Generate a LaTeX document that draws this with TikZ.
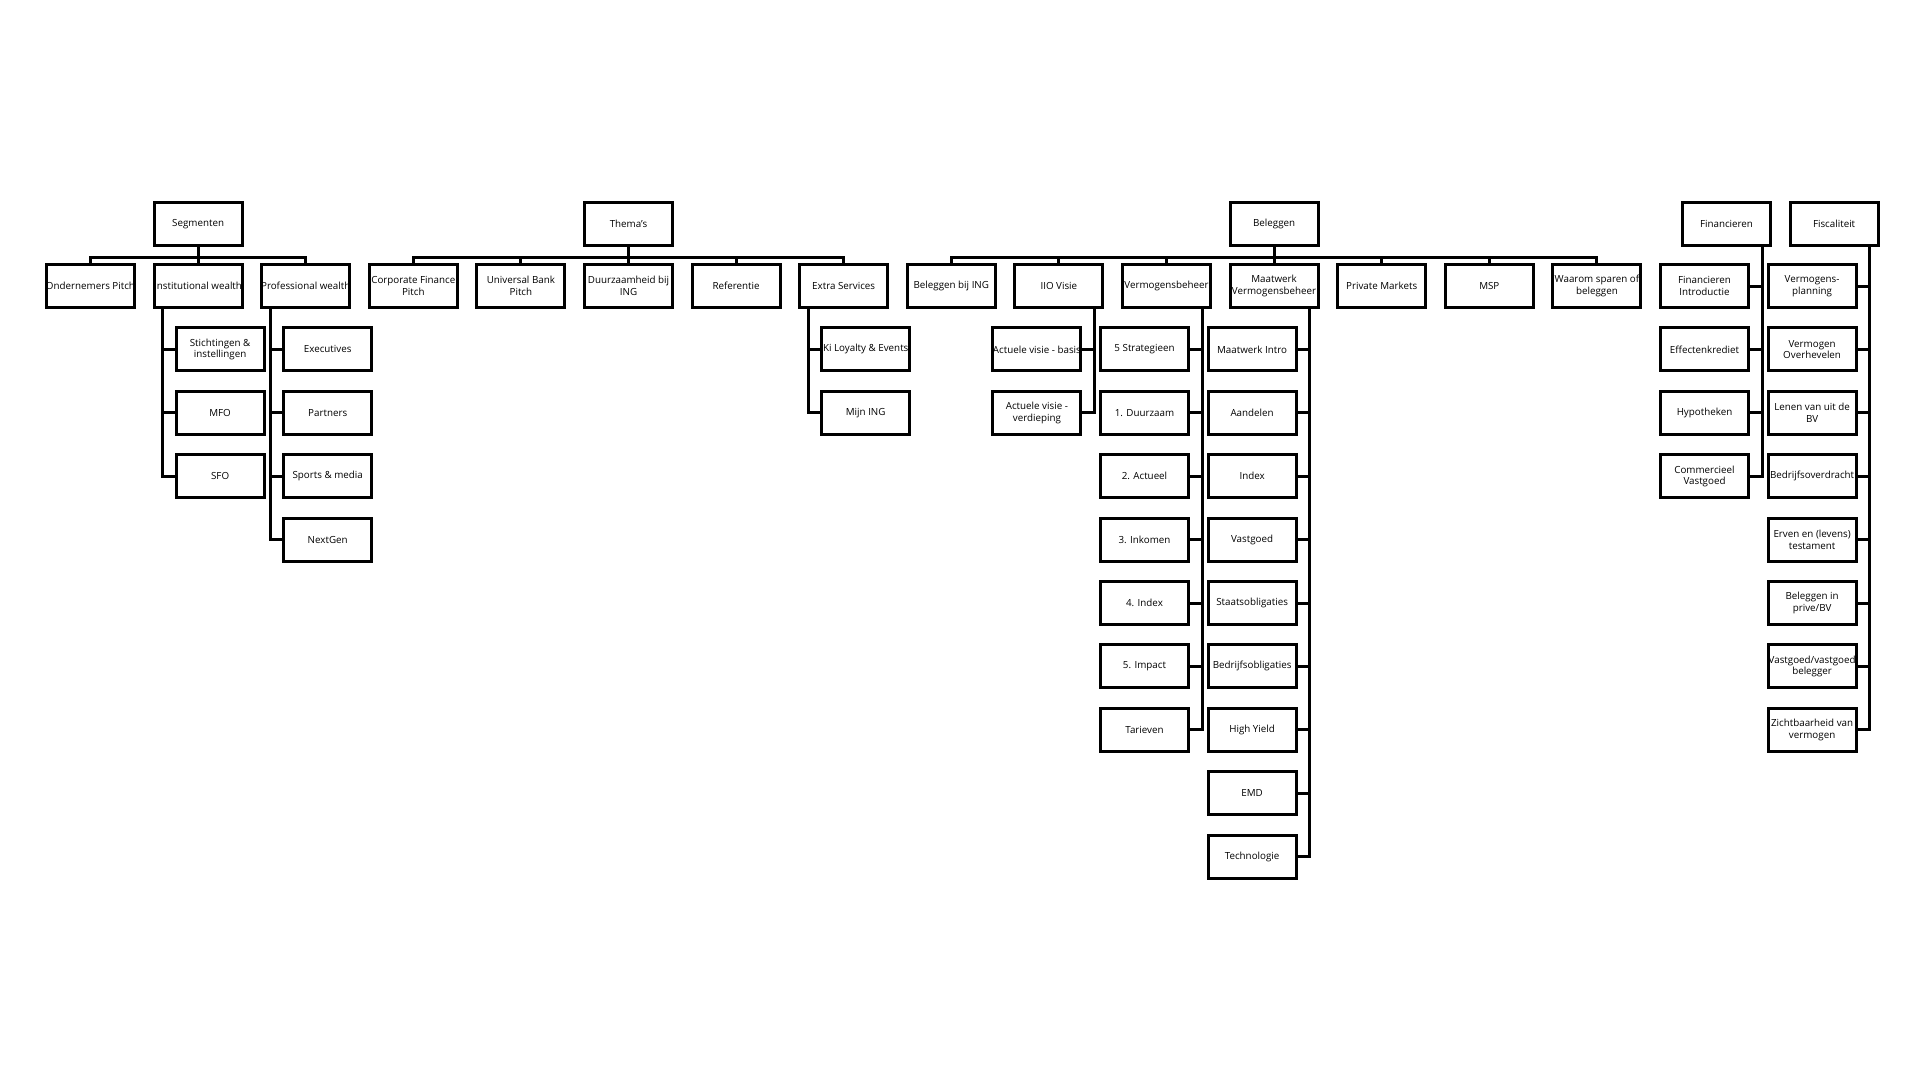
\documentclass[tikz,border=0pt]{standalone}
\usepackage{fontspec}
\setmainfont{Open Sans}
\newcommand\w[1]{\makebox[60pt][c]{#1}}
\newcommand\colx[1]{90.5+107.6*#1}
\newcommand\rowy[1]{286+63.4*#1}
\tikzset{
  box/.style={draw=black, line width=3pt, minimum width=88pt, minimum height=43pt,
    inner sep=0pt, align=center, fill=white, text=black,
    font=\fontsize{9.8}{11.5}\selectfont},
  conn/.style={draw=black, line width=3pt}
}
\begin{document}
\begin{tikzpicture}[x=1pt,y=-1pt]
\useasboundingbox[fill=white] (0,0) rectangle (1920,1080);
% ---------- roots ----------
\node[box] (seg) at ({\colx{1}},224) {\w{Segmenten}};
\node[box] (thm) at ({\colx{5}},224) {\w{Thema's}};
\node[box] (bel) at ({\colx{11}},224) {\w{Beleggen}};
\node[box] (fin) at ({\colx{15}+22},224) {\w{Financieren}};
\node[box] (fis) at ({\colx{16}+22},224) {\w{Fiscaliteit}};
% ---------- level 1 ----------
\node[box] (c0) at ({\colx{0}},{\rowy{0}}) {\w{Ondernemers Pitch}};
\node[box] (c1) at ({\colx{1}},{\rowy{0}}) {\w{Institutional wealth}};
\node[box] (c2) at ({\colx{2}},{\rowy{0}}) {\w{Professional wealth}};
\node[box] (c3) at ({\colx{3}},{\rowy{0}}) {\w{Corporate Finance}\\\w{Pitch}};
\node[box] (c4) at ({\colx{4}},{\rowy{0}}) {\w{Universal Bank}\\\w{Pitch}};
\node[box] (c5) at ({\colx{5}},{\rowy{0}}) {\w{Duurzaamheid bij}\\\w{ING}};
\node[box] (c6) at ({\colx{6}},{\rowy{0}}) {\w{Referentie}};
\node[box] (c7) at ({\colx{7}},{\rowy{0}}) {\w{Extra Services}};
\node[box] (c8) at ({\colx{8}},{\rowy{0}}) {\w{Beleggen bij ING}};
\node[box] (c9) at ({\colx{9}},{\rowy{0}}) {\w{IIO Visie}};
\node[box] (c10) at ({\colx{10}},{\rowy{0}}) {\w{Vermogensbeheer}};
\node[box] (c11) at ({\colx{11}},{\rowy{0}}) {\w{Maatwerk}\\\w{Vermogensbeheer}};
\node[box] (c12) at ({\colx{12}},{\rowy{0}}) {\w{Private Markets}};
\node[box] (c13) at ({\colx{13}},{\rowy{0}}) {\w{MSP}};
\node[box] (c14) at ({\colx{14}},{\rowy{0}}) {\w{Waarom sparen of}\\\w{beleggen}};
% ---------- buses ----------
\foreach \c in {c0,c1,c2} \draw[conn] (seg.south) -- ++(0,10) -| (\c.north);
\foreach \c in {c3,c4,c5,c6,c7} \draw[conn] (thm.south) -- ++(0,10) -| (\c.north);
\foreach \c in {c8,c9,c10,c11,c12,c13,c14} \draw[conn] (bel.south) -- ++(0,10) -| (\c.north);
% ---------- Institutional wealth ----------
\node[box] (i1) at ({\colx{1}+22},{\rowy{1}}) {\w{Stichtingen \&}\\\w{instellingen}};
\node[box] (i2) at ({\colx{1}+22},{\rowy{2}}) {\w{MFO}};
\node[box] (i3) at ({\colx{1}+22},{\rowy{3}}) {\w{SFO}};
\foreach \c in {i1,i2,i3} \draw[conn] ([xshift=10pt]c1.south west) |- (\c.west);
% ---------- Professional wealth ----------
\node[box] (p1) at ({\colx{2}+22},{\rowy{1}}) {\w{Executives}};
\node[box] (p2) at ({\colx{2}+22},{\rowy{2}}) {\w{Partners}};
\node[box] (p3) at ({\colx{2}+22},{\rowy{3}}) {\w{Sports \& media}};
\node[box] (p4) at ({\colx{2}+22},{\rowy{4}}) {\w{NextGen}};
\foreach \c in {p1,p2,p3,p4} \draw[conn] ([xshift=10pt]c2.south west) |- (\c.west);
% ---------- Extra Services ----------
\node[box] (e1) at ({\colx{7}+22},{\rowy{1}}) {\w{Ki Loyalty \& Events}};
\node[box] (e2) at ({\colx{7}+22},{\rowy{2}}) {\w{Mijn ING}};
\foreach \c in {e1,e2} \draw[conn] ([xshift=10pt]c7.south west) |- (\c.west);
% ---------- IIO Visie ----------
\node[box] (v1) at ({\colx{9}-22},{\rowy{1}}) {\w{Actuele visie - basis}};
\node[box] (v2) at ({\colx{9}-22},{\rowy{2}}) {\w{Actuele visie -}\\\w{verdieping}};
\foreach \c in {v1,v2} \draw[conn] ([xshift=-10pt]c9.south east) |- (\c.east);
% ---------- Vermogensbeheer ----------
\node[box] (b1) at ({\colx{10}-22},{\rowy{1}}) {\w{5 Strategieen}};
\node[box] (b2) at ({\colx{10}-22},{\rowy{2}}) {\w{1. Duurzaam}};
\node[box] (b3) at ({\colx{10}-22},{\rowy{3}}) {\w{2. Actueel}};
\node[box] (b4) at ({\colx{10}-22},{\rowy{4}}) {\w{3. Inkomen}};
\node[box] (b5) at ({\colx{10}-22},{\rowy{5}}) {\w{4. Index}};
\node[box] (b6) at ({\colx{10}-22},{\rowy{6}}) {\w{5. Impact}};
\node[box] (b7) at ({\colx{10}-22},{\rowy{7}}) {\w{Tarieven}};
\foreach \c in {b1,b2,b3,b4,b5,b6,b7} \draw[conn] ([xshift=-10pt]c10.south east) |- (\c.east);
% ---------- Maatwerk ----------
\node[box] (m1) at ({\colx{11}-22},{\rowy{1}}) {\w{Maatwerk Intro}};
\node[box] (m2) at ({\colx{11}-22},{\rowy{2}}) {\w{Aandelen}};
\node[box] (m3) at ({\colx{11}-22},{\rowy{3}}) {\w{Index}};
\node[box] (m4) at ({\colx{11}-22},{\rowy{4}}) {\w{Vastgoed}};
\node[box] (m5) at ({\colx{11}-22},{\rowy{5}}) {\w{Staatsobligaties}};
\node[box] (m6) at ({\colx{11}-22},{\rowy{6}}) {\w{Bedrijfsobligaties}};
\node[box] (m7) at ({\colx{11}-22},{\rowy{7}}) {\w{High Yield}};
\node[box] (m8) at ({\colx{11}-22},{\rowy{8}}) {\w{EMD}};
\node[box] (m9) at ({\colx{11}-22},{\rowy{9}}) {\w{Technologie}};
\foreach \c in {m1,m2,m3,m4,m5,m6,m7,m8,m9} \draw[conn] ([xshift=-10pt]c11.south east) |- (\c.east);
% ---------- Financieren ----------
\node[box] (f1) at ({\colx{15}},{\rowy{0}}) {\w{Financieren}\\\w{Introductie}};
\node[box] (f2) at ({\colx{15}},{\rowy{1}}) {\w{Effectenkrediet}};
\node[box] (f3) at ({\colx{15}},{\rowy{2}}) {\w{Hypotheken}};
\node[box] (f4) at ({\colx{15}},{\rowy{3}}) {\w{Commercieel}\\\w{Vastgoed}};
\foreach \c in {f1,f2,f3,f4} \draw[conn] ([xshift=-10pt]fin.south east) |- (\c.east);
% ---------- Fiscaliteit ----------
\node[box] (s1) at ({\colx{16}},{\rowy{0}}) {\w{Vermogens-}\\\w{planning}};
\node[box] (s2) at ({\colx{16}},{\rowy{1}}) {\w{Vermogen}\\\w{Overhevelen}};
\node[box] (s3) at ({\colx{16}},{\rowy{2}}) {\w{Lenen van uit de}\\\w{BV}};
\node[box] (s4) at ({\colx{16}},{\rowy{3}}) {\w{Bedrijfsoverdracht}};
\node[box] (s5) at ({\colx{16}},{\rowy{4}}) {\w{Erven en (levens)}\\\w{testament}};
\node[box] (s6) at ({\colx{16}},{\rowy{5}}) {\w{Beleggen in}\\\w{prive/BV}};
\node[box] (s7) at ({\colx{16}},{\rowy{6}}) {\w{Vastgoed/vastgoed}\\\w{belegger}};
\node[box] (s8) at ({\colx{16}},{\rowy{7}}) {\w{Zichtbaarheid van}\\\w{vermogen}};
\foreach \c in {s1,s2,s3,s4,s5,s6,s7,s8} \draw[conn] ([xshift=-10pt]fis.south east) |- (\c.east);
\end{tikzpicture}
\end{document}
